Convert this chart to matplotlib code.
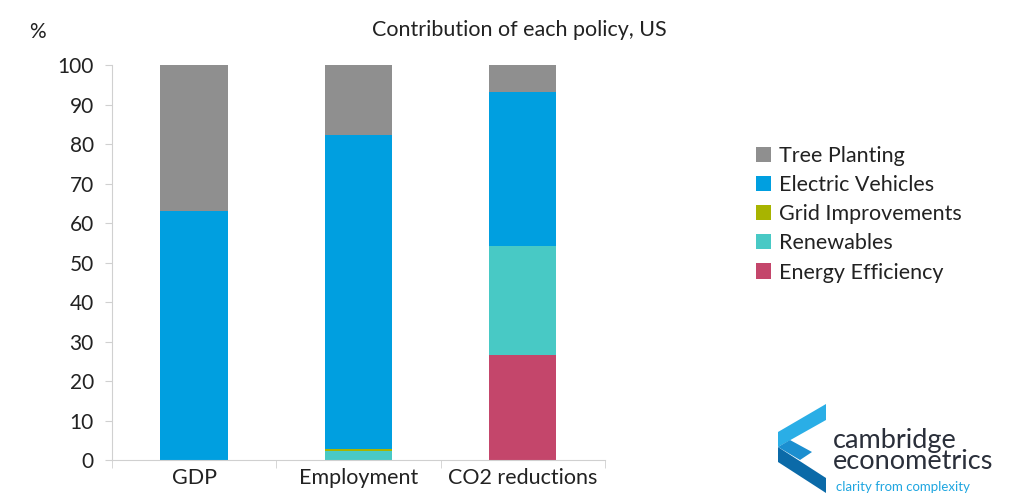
import matplotlib.pyplot as plt
from matplotlib.patches import Polygon

plt.rcParams['font.family'] = ['Lato', 'DejaVu Sans']

categories = ['GDP', 'Employment', 'CO2 reductions']
policies = ['Energy Efficiency', 'Renewables', 'Grid Improvements',
            'Electric Vehicles', 'Tree Planting']
energy_eff = [0, 0, 26.7]
renewables = [0, 2.2, 27.5]
grid = [0, 0.5, 0]
electric = [63, 79.6, 39]
trees = [37, 17.7, 6.8]
colors = ['#c4466b', '#48c9c5', '#a8b400', '#009fe0', '#8f8f8f']

W, H = 1029, 493
fig = plt.figure(figsize=(W / 100, H / 100), dpi=100)
ax = fig.add_axes([0.1088, 0.0669, 0.4791, 0.8012])

x = range(len(categories))
bottom = [0, 0, 0]
for name, vals, c in zip(policies, [energy_eff, renewables, grid, electric, trees], colors):
    ax.bar(x, vals, bottom=bottom, width=0.41, color=c, label=name)
    bottom = [b + v for b, v in zip(bottom, vals)]

ax.set_xlim(-0.5, 2.5)
ax.set_ylim(0, 100)
ax.set_yticks(range(0, 101, 10))
ax.set_xticks(list(x))
ax.set_xticklabels(categories, fontsize=15.5, color='#222222')
ax.set_xticks([-0.5, 0.5, 1.5, 2.5], minor=True)
ax.tick_params(axis='x', which='major', length=0, pad=6)
ax.tick_params(axis='x', which='minor', length=6, color='#d0d0d0')
ax.tick_params(axis='y', length=5, color='#d0d0d0', labelsize=15,
               labelcolor='#222222', pad=8)
for s in ['top', 'right']:
    ax.spines[s].set_visible(False)
for s in ['left', 'bottom']:
    ax.spines[s].set_color('#d0d0d0')

fig.text(0.505, 0.94, 'Contribution of each policy, US', ha='center',
         va='center', fontsize=15.5, color='#222222')
fig.text(0.036, 0.935, '%', ha='center', va='center', fontsize=15, color='#222222')

handles, labels = ax.get_legend_handles_labels()
fig.legend(handles[::-1], labels[::-1], loc='center left',
           bbox_to_anchor=(0.716, 0.565), frameon=False, fontsize=15.5,
           handlelength=0.7, handleheight=0.7, handletextpad=0.35,
           labelspacing=0.42, labelcolor='#222222')


# logo, drawn in pixel coordinates
def px(pts):
    return [(a / W, 1 - b / H) for a, b in pts]


for pts, c in [([(826, 404), (778, 432), (778, 447), (826, 420)], '#2aaee6'),
               ([(778, 447), (778, 462), (826, 493), (826, 478)], '#0b6aa8'),
               ([(790, 440), (778, 447), (800, 460), (812, 452)], '#1b8fd0')]:
    fig.patches.append(Polygon(px(pts), closed=True, transform=fig.transFigure,
                               color=c, lw=0))
fig.text(833 / W, 1 - 451 / H, 'cambridge\neconometrics', ha='left', va='center',
         fontsize=19.5, color='#2a2f3a', linespacing=0.82)
fig.text(836 / W, 1 - 487 / H, 'clarity from complexity', ha='left', va='center',
         fontsize=9.5, color='#1fa6e0')

fig.savefig('out.png', dpi=100)
